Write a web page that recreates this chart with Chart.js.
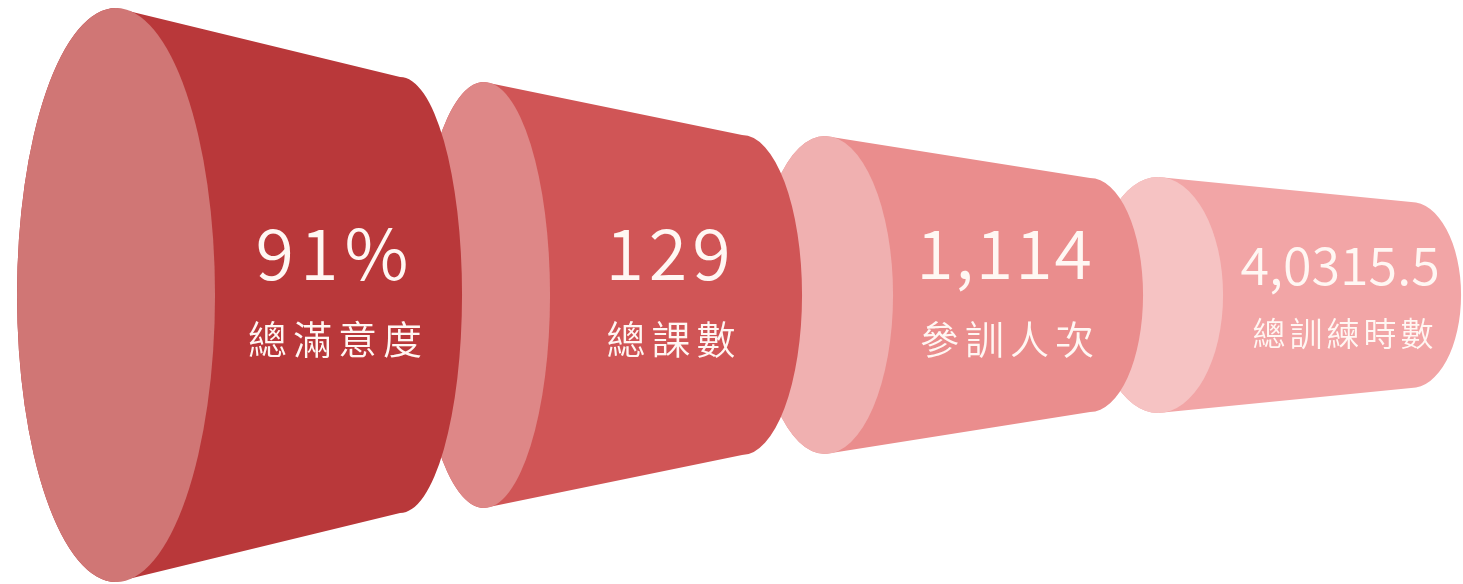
<html>
  <head>
    <script src="https://cdn.jsdelivr.net/npm/chart.js@4.4.0/dist/chart.umd.min.js"></script>
    <style>
      body { margin: 0; background: #ffffff; }
      #wrap { width: 1463px; height: 584px; }
    </style>
  </head>
  <body>
    <div id="wrap"><canvas id="funnelChart"></canvas></div>
    <script>
      // the four stages of the funnel, left to right
      const categories = ['總滿意度', '總課數', '參訓人次', '總訓練時數'];
      const values = [91, 129, 1114, 40315.5];
      const valueLabels = ['91%', '129', '1,114', '4,0315.5'];

      // looks of each cone (face = front ellipse, body = the cone side)
      const faceColors = ['#d07675', '#de8787', '#f0b0b0', '#f6c3c3'];
      const bodyColors = ['#b9383a', '#d05556', '#ea8d8d', '#f2a5a6'];
      const coneStyle = {
        frontOff: [-222, -190, -185, -188],
        backOff: [62, 68, 80, 65],
        frontRx: [99, 66, 68, 65],
        backRx: [62, 60, 53, 50],
        frontRy: [287, 213, 159, 118],
        backRy: [218, 160, 117, 93],
        valueFont: [70, 70, 68, 52],
        labelFont: [39, 39, 39, 33],
        valueSpacing: [6, 5, 2, 0],
        labelSpacing: [6, 6, 6, 4],
        valueSide: [-6, -6, -6, -6],
        valueY: [-42, -42, -42, -30],
        labelY: [44, 44, 44, 38]
      };

      function spacedText(ctx, text, cx, cy, spacing) {
        ctx.letterSpacing = spacing + 'px';
        const w = ctx.measureText(text).width - spacing;
        ctx.textAlign = 'left';
        ctx.fillText(text, cx - w / 2, cy);
      }

      const conePlugin = {
        id: 'cones',
        afterDatasetsDraw(chart) {
          const ctx = chart.ctx;
          const meta = chart.getDatasetMeta(0);
          const s = coneStyle;
          ctx.save();
          // back to front so nearer cones cover the faces behind them
          for (let i = meta.data.length - 1; i >= 0; i--) {
            const pt = meta.data[i];
            const fx = pt.x + s.frontOff[i];
            const bx = pt.x + s.backOff[i];
            const cy = pt.y;
            ctx.beginPath();
            ctx.moveTo(fx, cy - s.frontRy[i]);
            ctx.lineTo(bx, cy - s.backRy[i]);
            ctx.ellipse(bx, cy, s.backRx[i], s.backRy[i], 0, -Math.PI / 2, Math.PI / 2);
            ctx.lineTo(fx, cy + s.frontRy[i]);
            ctx.ellipse(fx, cy, s.frontRx[i], s.frontRy[i], 0, Math.PI / 2, Math.PI * 1.5);
            ctx.closePath();
            ctx.fillStyle = bodyColors[i];
            ctx.fill();

            ctx.beginPath();
            ctx.ellipse(fx, cy, s.frontRx[i], s.frontRy[i], 0, 0, Math.PI * 2);
            ctx.fillStyle = faceColors[i];
            ctx.fill();

            ctx.fillStyle = '#fff7f3';
            ctx.textBaseline = 'middle';
            ctx.font = '350 ' + s.valueFont[i] + 'px "Noto Sans CJK TC", "Noto Sans", sans-serif';
            spacedText(ctx, valueLabels[i], pt.x + s.valueSide[i], cy + s.valueY[i], s.valueSpacing[i]);
            ctx.font = '350 ' + s.labelFont[i] + 'px "Noto Sans CJK TC", sans-serif';
            spacedText(ctx, categories[i], pt.x - 3, cy + s.labelY[i], s.labelSpacing[i]);
          }
          ctx.restore();
        }
      };

      new Chart(document.getElementById('funnelChart'), {
        type: 'scatter',
        data: {
          labels: categories,
          datasets: [{
            label: '訓練成果',
            data: values.map((v, i) => ({ x: i, y: 0, v: v })),
            pointRadius: 0
          }]
        },
        options: {
          responsive: true,
          maintainAspectRatio: false,
          animation: false,
          layout: { padding: 0 },
          plugins: { legend: { display: false }, tooltip: { enabled: false } },
          scales: {
            x: { type: 'linear', display: false, min: -1.006, max: 3.348 },
            y: { type: 'linear', display: false, min: -289, max: 295 }
          }
        },
        plugins: [conePlugin]
      });
    </script>
  </body>
</html>
